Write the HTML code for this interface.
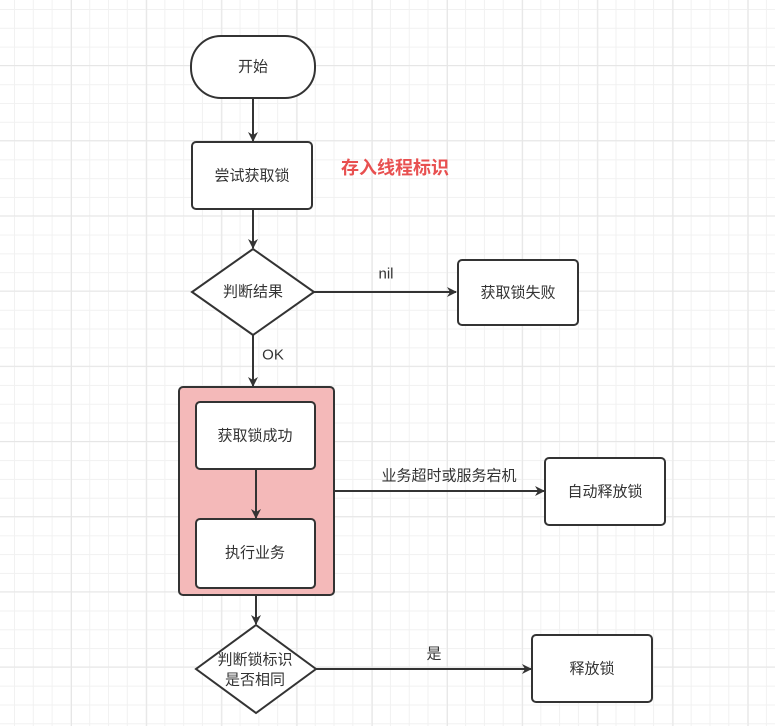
<!DOCTYPE html>
<html><head><meta charset="utf-8"><style>
html,body{margin:0;padding:0}
body{width:775px;height:726px;overflow:hidden;background-color:#fff;
background-image:
linear-gradient(to right,#e6e6e6 1px,transparent 1px),
linear-gradient(to bottom,#e6e6e6 1px,transparent 1px),
linear-gradient(to right,#f1f1f1 1px,transparent 1px),
linear-gradient(to bottom,#f1f1f1 1px,transparent 1px);
background-size:75.2px 75.2px,75.2px 75.2px,18.8px 18.8px,18.8px 18.8px;
background-position:71px 0,0 65px,14px 0,0 9px;}
svg{position:absolute;left:0;top:0}
text{font-family:"Liberation Sans","Noto Sans CJK SC",sans-serif;font-size:15px;fill:#333;text-anchor:middle;dominant-baseline:central}
</style></head><body>
<svg width="775" height="726" viewBox="0 0 775 726">
<defs><marker id="a" markerWidth="10" markerHeight="10" refX="9" refY="5" orient="auto" markerUnits="userSpaceOnUse"><path d="M0,0 L10,5 L0,10 L3,5 Z" fill="#333"/></marker></defs>
<g stroke="#333" stroke-width="2" fill="#fff">
<rect x="191" y="36" width="124" height="62" rx="30"/>
<rect x="192" y="142" width="120" height="67" rx="4"/>
<polygon points="253,249 314,292 253,335 192,292"/>
<rect x="458" y="260" width="120" height="65" rx="4"/>
<rect x="179" y="387" width="155" height="208" rx="4" fill="#f4b9b9"/>
<rect x="196" y="402" width="119" height="67" rx="4"/>
<rect x="196" y="519" width="119" height="69" rx="4"/>
<rect x="545" y="458" width="120" height="67" rx="4"/>
<polygon points="256,625 316,669 256,713 196,669"/>
<rect x="532" y="635" width="120" height="67" rx="4"/>
</g>
<g stroke="#333" stroke-width="2" fill="none">
<line x1="253" y1="98" x2="253" y2="141" marker-end="url(#a)"/>
<line x1="253" y1="209" x2="253" y2="248" marker-end="url(#a)"/>
<line x1="314" y1="292" x2="456" y2="292" marker-end="url(#a)"/>
<line x1="253" y1="335" x2="253" y2="386" marker-end="url(#a)"/>
<line x1="256" y1="469" x2="256" y2="518" marker-end="url(#a)"/>
<line x1="334" y1="491" x2="544" y2="491" marker-end="url(#a)"/>
<line x1="256" y1="595" x2="256" y2="624" marker-end="url(#a)"/>
<line x1="316" y1="669" x2="531" y2="669" marker-end="url(#a)"/>
</g>
<text x="253" y="67">开始</text>
<text x="252" y="176">尝试获取锁</text>
<text x="395" y="168" style="fill:#e85050;font-weight:bold;font-size:18px">存入线程标识</text>
<text x="253" y="292">判断结果</text>
<text x="386" y="274">nil</text>
<text x="518" y="293">获取锁失败</text>
<text x="273" y="355">OK</text>
<text x="255" y="436">获取锁成功</text>
<text x="255" y="553">执行业务</text>
<text x="449" y="476">业务超时或服务宕机</text>
<text x="605" y="492">自动释放锁</text>
<text x="255" y="660">判断锁标识</text>
<text x="255" y="680">是否相同</text>
<text x="434" y="654">是</text>
<text x="592" y="669">释放锁</text>
</svg>
</body></html>
